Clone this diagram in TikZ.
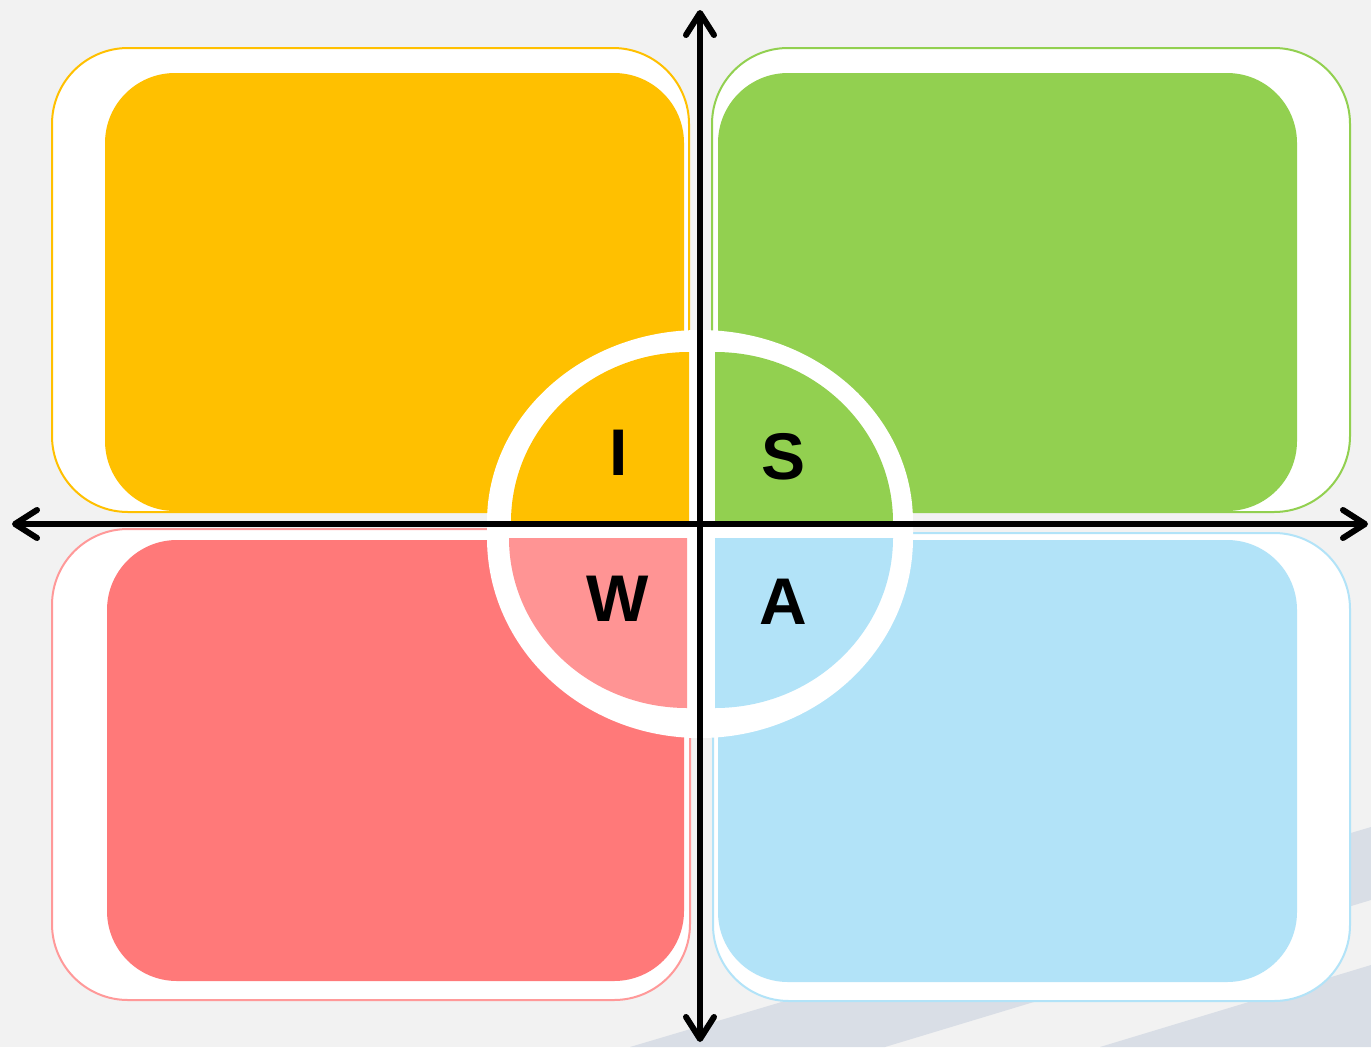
\documentclass[tikz,border=0pt]{standalone}
\usepackage{fontspec}
\setmainfont{Liberation Sans}
\usetikzlibrary{arrows.meta, positioning}

\definecolor{bggray}{HTML}{F2F2F2}
\definecolor{bandgray}{RGB}{217,222,230}
\definecolor{iyellow}{HTML}{FFC000}
\definecolor{sgreen}{HTML}{92D050}
\definecolor{wred}{RGB}{255,121,121}
\definecolor{wpink}{RGB}{255,148,148}
\definecolor{wline}{RGB}{255,153,153}
\definecolor{ablue}{RGB}{178,227,248}

\begin{document}
\begin{tikzpicture}[
		x=1pt, y=-1pt,
		% Estilos de los cuadrantes
		outer_box/.style={fill=white, draw=#1, line width=2pt, rounded corners=76pt},
		inner_box/.style={fill=#1, rounded corners=70pt},
		quad/.style={fill=#1},
		letter/.style={font=\fontsize{66}{66}\selectfont\bfseries, inner sep=0pt},
		axis_line/.style={line width=6pt, line cap=round},
		>={Straight Barb[length=22pt, width=28pt, line cap=round, line join=round]}
		]
		
		% --- FONDO ---
		\fill[bggray] (0,0) rectangle (1371,1047);
		\fill[bandgray] (630,1047) -- (1371,827) -- (1371,900) -- (885,1047) -- cycle;
		\fill[bandgray] (1100,1047) -- (1371,965) -- (1371,1047) -- cycle;
		
		% --- CUADRANTES ---
		\draw[outer_box=iyellow] (52,48) rectangle (689,512);
		\fill[inner_box=iyellow] (105,73) rectangle (684,511);
		\draw[outer_box=sgreen] (712,48) rectangle (1350,512);
		\fill[inner_box=sgreen] (718,73) rectangle (1297,511);
		\draw[outer_box=wline] (52,529) rectangle (690,1000);
		\fill[inner_box=wred] (107,540) rectangle (684,981);
		\draw[outer_box=ablue] (713,533) rectangle (1350,1001);
		\fill[inner_box=ablue] (718,540) rectangle (1297,982);
		
		% --- CIRCULO CENTRAL ---
		\fill[white] (487,522) arc[start angle=180, end angle=360, x radius=213, y radius=192]
			-- (913,538) arc[start angle=0, end angle=180, x radius=213, y radius=200] -- cycle;
		\fill[quad=iyellow] (689,522) -- (511,522) arc[start angle=180, end angle=270, x radius=178, y radius=170] -- cycle;
		\fill[quad=sgreen] (715,522) -- (715,352) arc[start angle=270, end angle=360, x radius=178, y radius=170] -- cycle;
		\fill[quad=wpink] (687,538) -- (509,538) arc[start angle=180, end angle=90, x radius=178, y radius=170] -- cycle;
		\fill[quad=ablue] (715,538) -- (893,538) arc[start angle=0, end angle=90, x radius=178, y radius=170] -- cycle;
		
		\node[letter] (li) at (619,453) {I};
		\node[letter] (ls) at (784,457) {S};
		\node[letter] (lw) at (618,599) {W};
		\node[letter] (la) at (783,602) {A};
		
		% --- EJES ---
		\coordinate (west) at (12,524);
		\coordinate (east) at (1368,524);
		\coordinate (north) at (700,10);
		\coordinate (south) at (700,1042);
		\draw[axis_line, <->] (west) -- (east);
		\draw[axis_line, <->] (north) -- (south);
		
	\end{tikzpicture}
\end{document}
